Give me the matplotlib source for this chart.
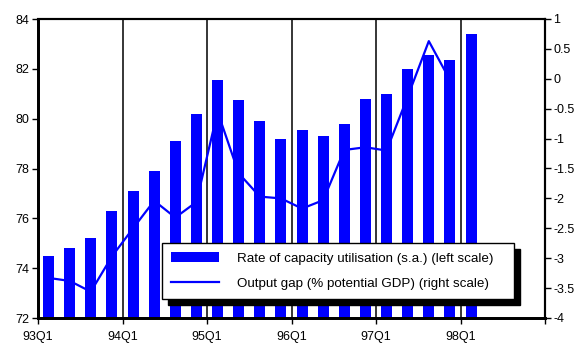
import matplotlib
matplotlib.use("Agg")
from matplotlib import pyplot as plt

plt.rcParams['font.family'] = ['Liberation Sans', 'DejaVu Sans']

quarters = ['93Q1', '93Q2', '93Q3', '93Q4', '94Q1', '94Q2', '94Q3', '94Q4',
            '95Q1', '95Q2', '95Q3', '95Q4', '96Q1', '96Q2', '96Q3', '96Q4',
            '97Q1', '97Q2', '97Q3', '97Q4', '98Q1']
capacity = [74.5, 74.8, 75.2, 76.3, 77.1, 77.9, 79.1, 80.2, 81.55, 80.75,
            79.9, 79.2, 79.55, 79.3, 79.8, 80.8, 81.0, 82.0, 82.55, 82.35, 83.4]
output_gap = [-3.33, -3.38, -3.56, -2.97, -2.5, -2.04, -2.32, -2.06, -0.55, -1.58,
              -1.97, -2.0, -2.17, -2.03, -1.19, -1.145, -1.2, -0.3, 0.63, -0.02]
year_labels = ['93Q1', '94Q1', '95Q1', '96Q1', '97Q1', '98Q1', '']

fig = plt.figure(figsize=(5.75, 3.43), dpi=100)
ax = fig.add_axes([38 / 575, 1 - 318 / 343, 507 / 575, 299 / 343])

xb = [i + 0.5 for i in range(len(capacity))]
xl = [i + 0.5 for i in range(len(output_gap))]

bars = ax.bar(xb, [c - 72 for c in capacity], bottom=72, width=0.52,
              color='#0000ff', zorder=2)
ax.set_xlim(0, 24)
ax.set_ylim(72, 84)
ax.set_yticks(range(72, 85, 2))
ax.set_xticks(range(0, 25, 4))
ax.set_xticklabels(year_labels)
for x in range(4, 24, 4):
    ax.axvline(x, color='black', lw=1.1, zorder=1)

ax2 = ax.twinx()
line, = ax2.plot(xl, output_gap, color='#0000ff', lw=1.6)
ax2.set_ylim(-4, 1)
ax2.set_yticks([1, 0.5, 0, -0.5, -1, -1.5, -2, -2.5, -3, -3.5, -4])
ax2.set_yticklabels(['1', '0.5', '0', '-0.5', '-1', '-1.5', '-2', '-2.5',
                     '-3', '-3.5', '-4'])

for a in (ax, ax2):
    for s in a.spines.values():
        s.set_color('black')
    a.spines['left'].set_linewidth(2)
    a.spines['bottom'].set_linewidth(2)
    a.spines['top'].set_linewidth(1.5)
    a.spines['right'].set_linewidth(1.5)
    a.tick_params(labelsize=9, length=4, width=1, colors='black', pad=2)
ax.tick_params(axis='x', pad=5.5)

leg_h = 52 / 299
leg = ax2.legend([bars, line],
                 ['Rate of capacity utilisation (s.a.) (left scale)',
                  'Output gap (% potential GDP) (right scale)'],
                 loc='upper left', mode='expand',
                 bbox_to_anchor=(124 / 507, 75 / 299 - leg_h, 352 / 507, leg_h),
                 borderaxespad=0,
                 fontsize=9.6, fancybox=False, framealpha=1, edgecolor='black',
                 handlelength=3.6, handletextpad=1.3, labelspacing=0.94,
                 borderpad=0.7,
                 shadow={'color': 'black', 'alpha': 1, 'ox': 4.5, 'oy': -4.5})
leg.get_frame().set_linewidth(1)

fig.savefig('out.png', dpi=100)
